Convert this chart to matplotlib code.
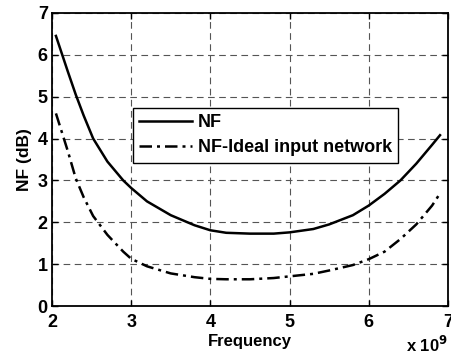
import matplotlib
matplotlib.use('Agg')
from matplotlib import pyplot as plt

# frequency points (x 1e9 Hz)
freq = [2.05, 2.2, 2.3, 2.4, 2.52, 2.7, 2.9, 3.0, 3.2, 3.5, 3.8, 4.0, 4.2, 4.5, 4.8, 5.0, 5.3, 5.5, 5.8, 6.0, 6.2, 6.4, 6.6, 6.8, 6.9]
nf = [6.45, 5.6, 5.05, 4.55, 4.0, 3.45, 3.0, 2.82, 2.5, 2.17, 1.93, 1.81, 1.75, 1.73, 1.73, 1.76, 1.84, 1.95, 2.17, 2.4, 2.68, 3.0, 3.4, 3.85, 4.08]
nf_ideal = [4.6, 3.7, 3.05, 2.6, 2.15, 1.7, 1.3, 1.13, 0.95, 0.78, 0.69, 0.65, 0.64, 0.64, 0.67, 0.71, 0.77, 0.85, 0.98, 1.12, 1.3, 1.6, 1.95, 2.4, 2.69]

plt.rcParams['font.family'] = ['Liberation Sans', 'DejaVu Sans']
plt.rcParams['font.weight'] = 'bold'

fig = plt.figure(figsize=(4.52, 3.58), dpi=100)
ax = fig.add_axes([0.115, 0.145, 0.876, 0.819])

ax.plot(freq, nf, color='black', linewidth=1.8, label='NF')
ax.plot(freq, nf_ideal, color='black', linewidth=1.8, linestyle=(0, (5, 2, 1.2, 2)),
        label='NF-Ideal input network')

ax.set_xlim(2, 7)
ax.set_ylim(0, 7)
ax.set_xticks([2, 3, 4, 5, 6, 7])
ax.set_yticks(range(8))
ax.tick_params(direction='in', labelsize=13, length=4, width=1, top=True, right=True)
ax.tick_params(axis='x', pad=6)
ax.tick_params(axis='y', pad=3)
for lab in ax.get_xticklabels() + ax.get_yticklabels():
    lab.set_fontweight('bold')

ax.grid(True, linestyle=(0, (6, 4)), color='#555555', linewidth=0.8)
for s in ax.spines.values():
    s.set_linewidth(1.3)

ax.set_xlabel('Frequency', fontsize=12, fontweight='bold', labelpad=2)
ax.set_ylabel('NF (dB)', fontsize=12.5, fontweight='bold', labelpad=4)
ax.text(1.0, -0.158, r'x 10$^{\mathbf{9}}$', transform=ax.transAxes, ha='right', va='baseline',
        fontsize=12, fontweight='bold')

leg = ax.legend(loc='upper left', bbox_to_anchor=(0.2045, 0.676), fontsize=13, frameon=True,
                fancybox=False, edgecolor='black', framealpha=1, borderpad=0.35,
                handlelength=2.9, handletextpad=0.33, labelspacing=0.45, borderaxespad=0)
leg.get_frame().set_linewidth(1.0)
for t in leg.get_texts():
    t.set_fontweight('bold')

fig.savefig('out.png', dpi=100)
